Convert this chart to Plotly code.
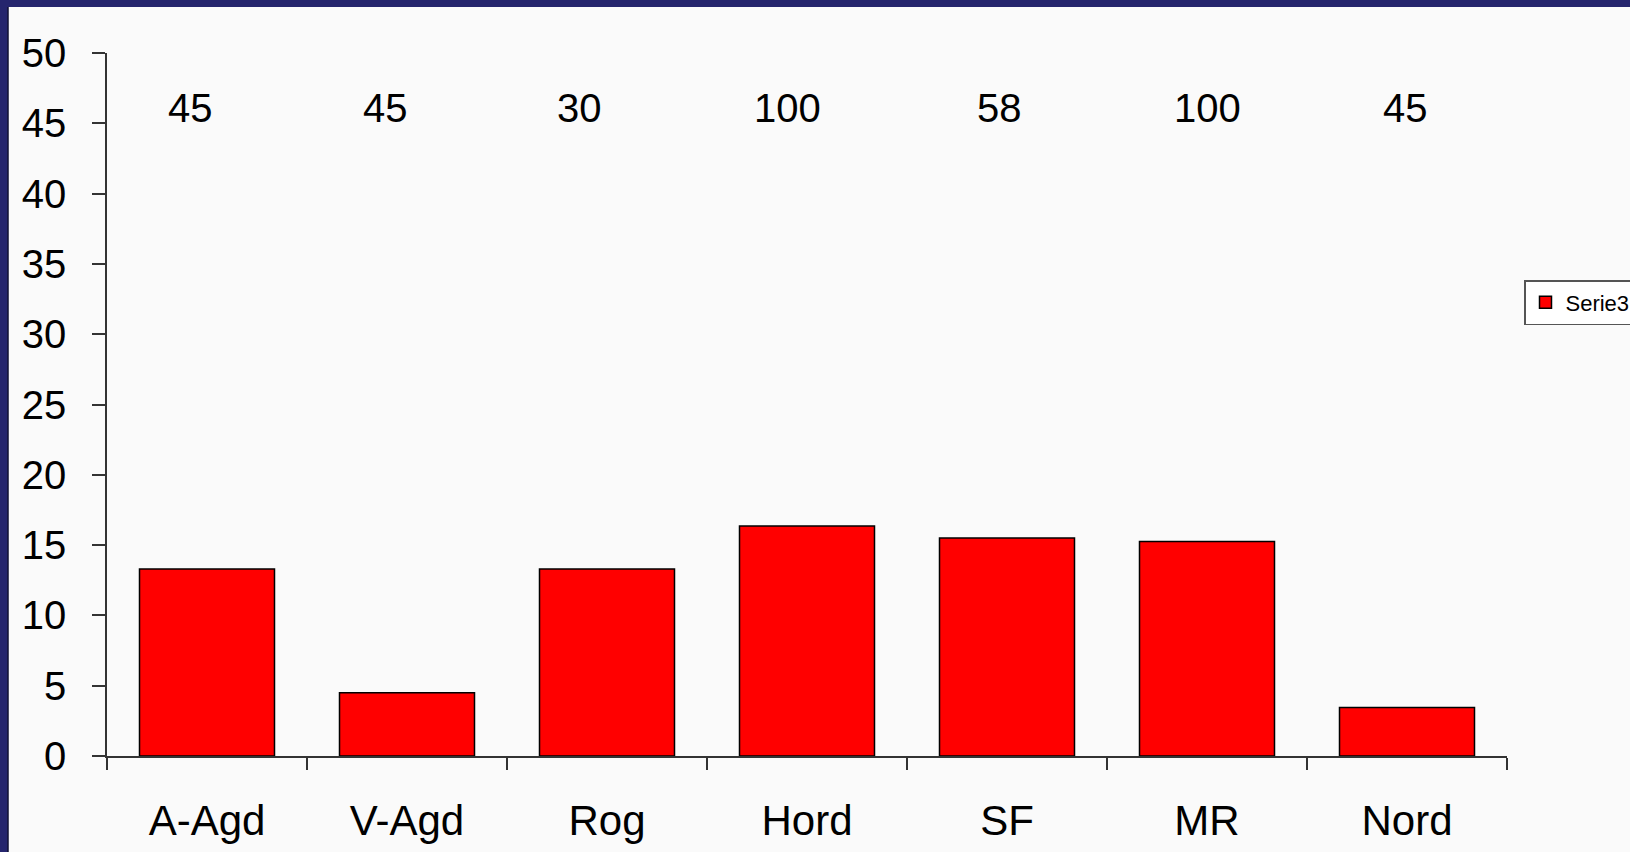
import plotly.graph_objects as go

categories = ["A-Agd", "V-Agd", "Rog", "Hord", "SF", "MR", "Nord"]
values = [13.3, 4.5, 13.3, 16.35, 15.5, 15.25, 3.45]
top_labels = ["45", "45", "30", "100", "58", "100", "45"]
label_shift = [-17, -22, -28, -20, -8, 0, -2]
yticks = [0, 5, 10, 15, 20, 25, 30, 35, 40, 45, 50]

W, H = 1630, 852
ml, mr, mt, mb = 107, 123, 53, 96
pw, ph = W - ml - mr, H - mt - mb

NAVY = "#25256d"
PANEL = "#fafafa"
FONT = "Liberation Sans, Arial, sans-serif"

fig = go.Figure()
fig.add_trace(go.Bar(
    x=categories, y=values, name="Serie3",
    marker=dict(color="#ff0000", line=dict(color="#000000", width=1.5)),
    width=0.675,
))

# panel and border
def px2paper_x(px):
    return (px - ml) / pw

def py2paper_y(py):
    return (H - mb - py) / ph

fig.add_shape(type="rect", xref="paper", yref="paper",
              x0=px2paper_x(8), x1=px2paper_x(W + 5),
              y0=py2paper_y(H + 5), y1=py2paper_y(7),
              fillcolor=PANEL, line=dict(width=0), layer="below")
fig.add_shape(type="line", xref="paper", yref="paper",
              x0=px2paper_x(8), x1=px2paper_x(8),
              y0=py2paper_y(H + 5), y1=py2paper_y(7),
              line=dict(color="#111133", width=1.5), layer="below")

for c, t, s in zip(categories, top_labels, label_shift):
    fig.add_annotation(x=c, y=46.1, text=t, showarrow=False, xshift=s,
                       font=dict(family=FONT, size=40, color="#000000"))

fig.update_layout(
    width=W, height=H,
    margin=dict(l=ml, r=mr, t=mt, b=mb, autoexpand=False),
    paper_bgcolor=NAVY, plot_bgcolor=PANEL,
    font=dict(family=FONT, color="#000000"),
    showlegend=True,
    legend=dict(x=px2paper_x(1524), y=py2paper_y(280), xanchor="left", yanchor="top",
                bgcolor="#ffffff", bordercolor="#555555", borderwidth=1.5,
                font=dict(family=FONT, size=22, color="#000000"),
                itemwidth=30),
    bargap=0.325,
    xaxis=dict(range=[-0.5, 6.5], showline=True, linecolor="#333333", linewidth=1.5,
               ticks="outside", ticklen=12, tickcolor="#333333", tickwidth=1.5,
               tickson="boundaries", showgrid=False, zeroline=False, ticklabelstandoff=27,
               tickfont=dict(family=FONT, size=42, color="#000000")),
    yaxis=dict(range=[0, 50], tickvals=yticks, showline=True, linecolor="#333333", linewidth=1.5,
               ticks="outside", ticklen=13, tickcolor="#333333", tickwidth=1.5,
               showgrid=False, zeroline=False, ticklabelstandoff=18,
               tickfont=dict(family=FONT, size=40, color="#000000")),
)

fig.write_html("out.html")
